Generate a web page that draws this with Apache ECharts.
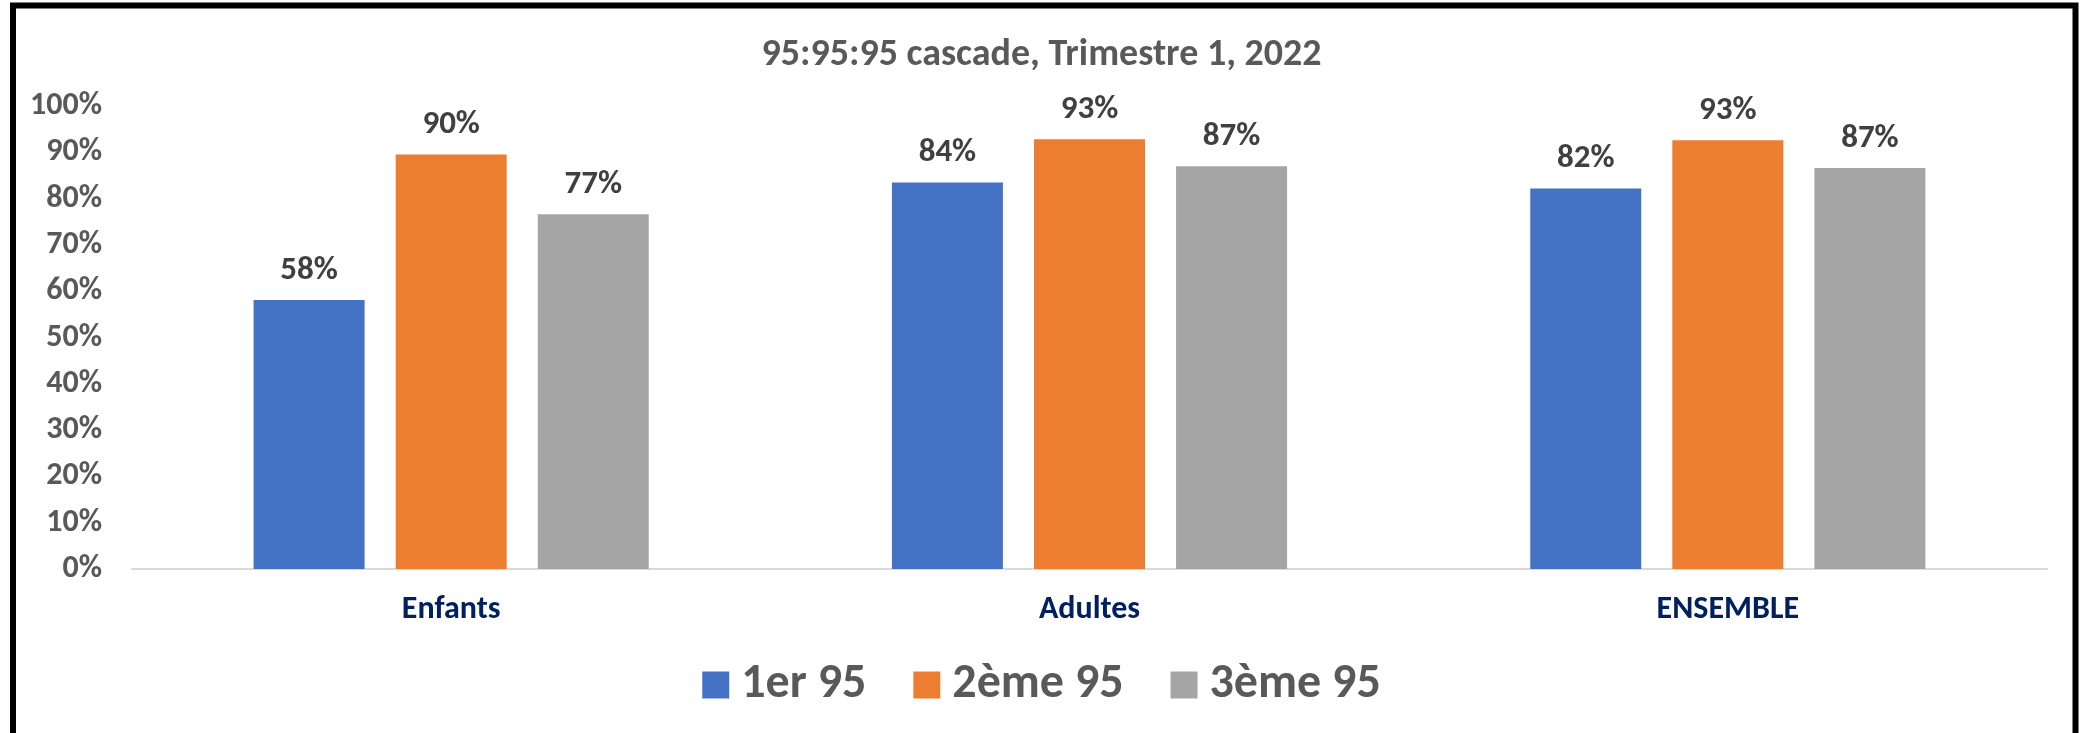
<!DOCTYPE html>
<html>
<head>
<meta charset="utf-8">
<script src="https://cdn.jsdelivr.net/npm/echarts@6/dist/echarts.min.js"></script>
<style>
  html, body { margin: 0; padding: 0; background: #fff; }
  #chart { width: 2083px; height: 733px; }
</style>
</head>
<body>
<div id="chart"></div>
<script>
var categories = ['Enfants', 'Adultes', 'ENSEMBLE'];
var seriesNames = ['1er 95', '2ème 95', '3ème 95'];
var premier95 = [58.1, 83.5, 82.2];
var deuxieme95 = [89.5, 92.8, 92.6];
var troisieme95 = [76.6, 87.0, 86.6];
var colors = ['#4472C4', '#ED7D31', '#A5A5A5'];

var font = 'Carlito, Calibri, Lato, sans-serif';

function bar(name, values, color) {
    return {
        name: name,
        type: 'bar',
        data: values,
        barWidth: 111,
        barGap: '28%',
        itemStyle: { color: color },
        label: {
            show: true,
            position: 'top',
            distance: 13,
            color: '#404040',
            fontFamily: font,
            fontWeight: 'bold',
            fontSize: 33,
            formatter: function (p) { return Math.round(p.value) + '%'; }
        }
    };
}

var el = echarts.init(document.getElementById('chart'));
el.setOption({
    animation: false,
    title: {
        text: '95:95:95 cascade, Trimestre 1, 2022',
        left: 'center',
        top: 31,
        textStyle: { color: '#595959', fontFamily: font, fontWeight: 'bold', fontSize: 38 }
    },
    legend: {
        data: seriesNames,
        left: 'center',
        top: 656,
        itemWidth: 27,
        itemHeight: 27,
        itemGap: 47,
        icon: 'rect',
        textStyle: { color: '#595959', fontFamily: font, fontWeight: 'bold', fontSize: 48, padding: [0, 0, 0, 7] }
    },
    grid: { left: 132, right: 36, top: 106, height: 463 },
    xAxis: {
        type: 'category',
        data: categories,
        axisLine: { lineStyle: { color: '#D9D9D9', width: 2 } },
        axisTick: { show: false },
        axisLabel: { color: '#002060', fontFamily: font, fontWeight: 'bold', fontSize: 32, margin: 25 }
    },
    yAxis: {
        type: 'value',
        min: 0,
        max: 100,
        interval: 10,
        splitLine: { show: false },
        axisLine: { show: false },
        axisTick: { show: false },
        axisLabel: {
            color: '#595959', fontFamily: font, fontWeight: 'bold', fontSize: 32, margin: 30,
            formatter: '{value}%'
        }
    },
    graphic: [{
        type: 'rect',
        shape: { x: 13, y: 5.5, width: 2062.5, height: 800 },
        style: { fill: 'none', stroke: '#000', lineWidth: 6 }
    }],
    series: [
        bar(seriesNames[0], premier95, colors[0]),
        bar(seriesNames[1], deuxieme95, colors[1]),
        bar(seriesNames[2], troisieme95, colors[2])
    ]
});
</script>
</body>
</html>
